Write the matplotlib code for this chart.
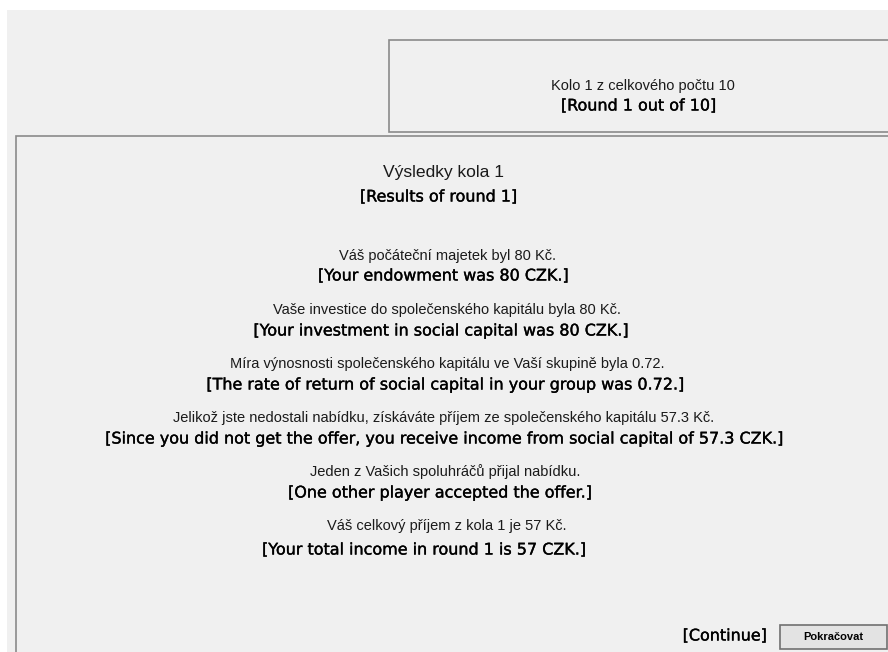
import matplotlib
matplotlib.use("Agg")
import matplotlib.pyplot as plt
from matplotlib.patches import Rectangle
import matplotlib.patheffects as pe

# --- content ---
header_cz = "Kolo 1 z celkového počtu 10"
header_en = "[Round 1 out of 10]"
title_cz = "Výsledky kola 1"
title_en = "[Results of round 1]"
lines_cz = [
    "Váš počáteční majetek byl 80 Kč.",
    "Vaše investice do společenského kapitálu byla 80 Kč.",
    "Míra výnosnosti společenského kapitálu ve Vaší skupině byla 0.72.",
    "Jelikož jste nedostali nabídku, získáváte příjem ze společenského kapitálu 57.3 Kč.",
    "Jeden z Vašich spoluhráčů přijal nabídku.",
    "Váš celkový příjem z kola 1 je 57 Kč.",
]
lines_en = [
    "[Your endowment was 80 CZK.]",
    "[Your investment in social capital was 80 CZK.]",
    "[The rate of return of social capital in your group was 0.72.]",
    "[Since you did not get the offer, you receive income from social capital of 57.3 CZK.]",
    "[One other player accepted the offer.]",
    "[Your total income in round 1 is 57 CZK.]",
]
continue_en = "[Continue]"
button_cz = "Pokračovat"

W, H = 888, 652
fig = plt.figure(figsize=(W / 100, H / 100), dpi=100)
fig.patch.set_facecolor("white")
ax = fig.add_axes([0, 0, 1, 1])
ax.set_xlim(0, W)
ax.set_ylim(H, 0)
ax.axis("off")

bg = "#f0f0f0"
ax.add_patch(Rectangle((7, 10), W, H, facecolor=bg, edgecolor="none"))
# top box
ax.add_patch(Rectangle((389, 40), 600, 92, facecolor=bg, edgecolor="#8a8a8a", lw=1.2))
# main box
ax.add_patch(Rectangle((16, 136), 900, 600, facecolor=bg, edgecolor="#8a8a8a", lw=1.2))

thick = [pe.withStroke(linewidth=0.25, foreground="black")]
cz_font = dict(family="Liberation Sans", fontsize=10.5, color="#1a1a1a", ha="center", va="center")
en_font = dict(family="DejaVu Sans", fontsize=11.5, color="black", ha="center", va="center",
               path_effects=thick)

ax.text(643, 86, header_cz, **cz_font)
ax.text(639, 106, header_en, **en_font)

ax.text(443, 173, title_cz, **{**cz_font, "fontsize": 12.6})
ax.text(439, 197, title_en, **en_font)

# layout: per-line centre x and y in pixels
x_cz = [447, 447, 447, 444, 445, 447]
y_cz = [256, 310, 364, 418, 472, 526]
x_en = [444, 442, 447, 446, 441, 425]
y_en = [276, 331, 385, 439, 493, 550]
for t, x, y in zip(lines_cz, x_cz, y_cz):
    ax.text(x, y, t, **cz_font)
for t, x, y in zip(lines_en, x_en, y_en):
    ax.text(x, y, t, **en_font)

ax.text(725, 636, continue_en, **en_font)
ax.add_patch(Rectangle((780, 625), 107, 24, facecolor="#e3e3e3", edgecolor="#707070", lw=1.2))
ax.text(833, 637, button_cz, family="Liberation Sans", fontsize=8, fontweight="bold",
        color="black", ha="center", va="center")

fig.savefig("out.png", dpi=100, facecolor=fig.get_facecolor())
